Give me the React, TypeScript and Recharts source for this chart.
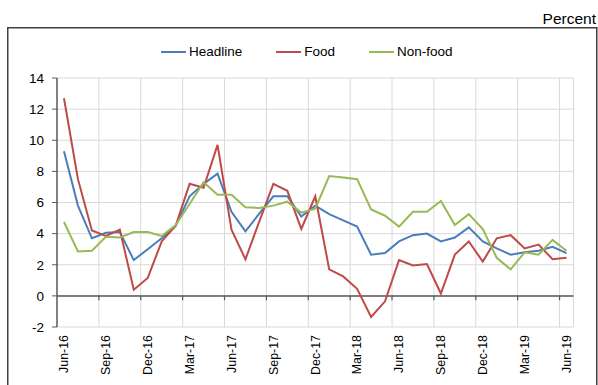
import React from "react";
import { LineChart, Line, XAxis, YAxis, CartesianGrid, ReferenceLine, Legend } from "recharts";

const months = [
  "Jun-16", "Jul-16", "Aug-16", "Sep-16", "Oct-16", "Nov-16", "Dec-16", "Jan-17", "Feb-17",
  "Mar-17", "Apr-17", "May-17", "Jun-17", "Jul-17", "Aug-17", "Sep-17", "Oct-17", "Nov-17",
  "Dec-17", "Jan-18", "Feb-18", "Mar-18", "Apr-18", "May-18", "Jun-18", "Jul-18", "Aug-18",
  "Sep-18", "Oct-18", "Nov-18", "Dec-18", "Jan-19", "Feb-19", "Mar-19", "Apr-19", "May-19", "Jun-19",
];

const headline = [
  9.3, 5.8, 3.7, 4.05, 4.1, 2.3, 3.0, 3.7, 4.5, 6.4, 7.2, 7.85, 5.4, 4.15, 5.3, 6.4, 6.4, 5.1,
  5.8, 5.25, 4.85, 4.45, 2.65, 2.75, 3.5, 3.9, 4.0, 3.5, 3.75, 4.4, 3.5, 3.05, 2.65, 2.8, 2.9, 3.15, 2.75,
];

const food = [
  12.7, 7.5, 4.2, 3.85, 4.25, 0.4, 1.15, 3.5, 4.5, 7.2, 6.95, 9.7, 4.25, 2.35, 4.8, 7.2, 6.75, 4.3,
  6.4, 1.7, 1.25, 0.45, -1.35, -0.35, 2.3, 1.95, 2.05, 0.15, 2.65, 3.5, 2.2, 3.7, 3.9, 3.05, 3.3, 2.35, 2.45,
];

const nonfood = [
  4.75, 2.85, 2.9, 3.8, 3.75, 4.1, 4.1, 3.85, 4.55, 5.9, 7.3, 6.5, 6.5, 5.7, 5.65, 5.8, 6.05, 5.35,
  5.6, 7.7, 7.6, 7.5, 5.55, 5.15, 4.45, 5.4, 5.4, 6.1, 4.55, 5.25, 4.3, 2.45, 1.7, 2.8, 2.65, 3.6, 2.9,
];

const seriesNames = ["Headline", "Food", "Non-food"];
const yTicks = [-2, 0, 2, 4, 6, 8, 10, 12, 14];
const xTickIdx = [0, 3, 6, 9, 12, 15, 18, 21, 24, 27, 30, 33, 36];
const vGrid = [2.5, 5.5, 8.5, 11.5, 14.5, 17.5, 20.5, 23.5, 26.5, 29.5, 32.5, 35.5, 36.5];
const axisTicks = [2.5, 5.5, 8.5, 11.5, 14.5, 17.5, 20.5, 23.5, 26.5, 29.5, 32.5, 35.5];

const data = months.map((m, i) => ({ i, month: m, headline: headline[i], food: food[i], nonfood: nonfood[i] }));

const FONT = "'Liberation Sans', Arial, Helvetica, sans-serif";
const AXIS = "#595959";
const GRID = "#d9d9d9";

const XTick = (props: any) => {
  const { x, y, payload } = props;
  return (
    <text
      x={x}
      y={y}
      transform={`rotate(-90 ${x} ${y})`}
      textAnchor="end"
      dy="0.35em"
      fontSize={12.4}
      fontFamily={FONT}
      fill="#000"
    >
      {months[payload.value]}
    </text>
  );
};

const renderLegend = (props: any) => {
  const payload = [...(props.payload || [])].sort(
    (a: any, b: any) => seriesNames.indexOf(a.value) - seriesNames.indexOf(b.value)
  );
  return (
    <div style={{ display: "flex", alignItems: "center", fontFamily: FONT, fontSize: 13.5, color: "#000" }}>
      {payload.map((p: any, k: number) => (
        <div key={k} style={{ display: "flex", alignItems: "center", marginRight: k < 2 ? 34 : 0 }}>
          <div style={{ width: 25, height: 2, background: p.color, marginRight: 3 }} />
          <span style={{ lineHeight: "16px" }}>{p.value}</span>
        </div>
      ))}
    </div>
  );
};

export default function App() {
  return (
    <div style={{ position: "relative", width: 598, height: 385, overflow: "hidden" }}>
      <style>{"html,body{margin:0;padding:0;overflow:hidden}"}</style>
      <svg
        width={598}
        height={385}
        style={{ position: "absolute", left: 0, top: 0, pointerEvents: "none" }}
      >
        <rect x={7.75} y={27.75} width={589} height={400} fill="#fff" stroke="#404040" strokeWidth={1.5} />
        <text x={596} y={24} textAnchor="end" fontSize={15.5} fontFamily={FONT} fill="#000">
          Percent
        </text>
      </svg>
      <div style={{ position: "absolute", left: 8, top: 8 }}>
        <LineChart
          width={590}
          height={377}
          data={data}
          margin={{ top: 70, right: 24.5, left: 0, bottom: 8 }}
        >
          <CartesianGrid vertical={false} stroke={GRID} strokeWidth={1} />
          {vGrid.map((v) => (
            <ReferenceLine key={"g" + v} x={v} stroke={GRID} strokeWidth={1} />
          ))}
          <XAxis
            dataKey="i"
            type="number"
            domain={[-0.5, 36.5]}
            ticks={xTickIdx}
            interval={0}
            axisLine={false}
            tickLine={false}
            tickSize={6}
            tickMargin={2}
            height={50}
            tick={<XTick />}
          />
          <YAxis
            domain={[-2, 14]}
            ticks={yTicks}
            interval={0}
            width={49}
            axisLine={{ stroke: AXIS, strokeWidth: 1.5 }}
            tickLine={{ stroke: AXIS, strokeWidth: 1 }}
            tickSize={5}
            tickMargin={8}
            tick={{ fontSize: 13.5, fontFamily: FONT, fill: "#000" }}
          />
          <ReferenceLine y={0} stroke={AXIS} strokeWidth={1.5} />
          {axisTicks.map((v) => (
            <ReferenceLine
              key={"t" + v}
              segment={[{ x: v, y: 0 }, { x: v, y: -0.28 }]}
              stroke={AXIS}
              strokeWidth={1.2}
            />
          ))}
          <Legend
            layout="horizontal"
            verticalAlign="middle"
            align="center"
            wrapperStyle={{ position: "absolute", top: 36, left: 153, width: "auto", height: 16 }}
            content={renderLegend}
          />
          <Line type="linear" dataKey="headline" name="Headline" stroke="#4A7EBB" strokeWidth={2} dot={false} isAnimationActive={false} />
          <Line type="linear" dataKey="food" name="Food" stroke="#BE4B48" strokeWidth={2} dot={false} isAnimationActive={false} />
          <Line type="linear" dataKey="nonfood" name="Non-food" stroke="#98B954" strokeWidth={2} dot={false} isAnimationActive={false} />
        </LineChart>
      </div>
    </div>
  );
}
